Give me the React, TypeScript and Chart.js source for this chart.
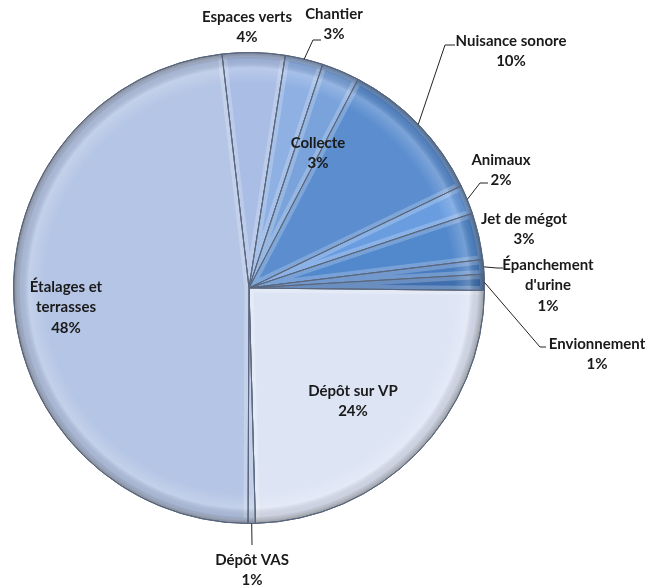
import React, { useEffect, useRef } from "react";
import { Chart, registerables } from "chart.js";

Chart.register(...registerables);

const categories = [
  "Espaces verts",
  "Chantier",
  "Collecte",
  "Nuisance sonore",
  "Animaux",
  "Jet de mégot",
  "Épanchement d'urine",
  "Envionnement",
  "Dépôt sur VP",
  "Dépôt VAS",
  "Étalages et terrasses",
];
const values = [4.3, 2.6, 2.6, 10.2, 2.0, 3.2, 1.0, 1.1, 24.4, 0.5, 48.1];
const percentLabels = ["4%", "3%", "3%", "10%", "2%", "3%", "1%", "1%", "24%", "1%", "48%"];
const labelLines = [
  ["Espaces verts"],
  ["Chantier"],
  ["Collecte"],
  ["Nuisance sonore"],
  ["Animaux"],
  ["Jet de mégot"],
  ["Épanchement", "d'urine"],
  ["Envionnement"],
  ["Dépôt sur VP"],
  ["Dépôt VAS"],
  ["Étalages et", "terrasses"],
];
const colors = [
  "#a9bde5",
  "#8fb0e3",
  "#7aa3dc",
  "#5b8dcf",
  "#6a9de0",
  "#5288cc",
  "#4a7dc0",
  "#3f6fae",
  "#dde4f4",
  "#b3c2e0",
  "#b5c5e5",
];

// label layout (text centre of first line; optional leader: elbow x,y and end x)
type Layout = { x: number; y: number; leader?: [number, number, number] };
const labelLayout: Layout[] = [
  { x: 247, y: 17 },
  { x: 334, y: 14, leader: [313, 40, 321] },
  { x: 318, y: 143 },
  { x: 511, y: 41, leader: [445, 45, 455] },
  { x: 501, y: 160, leader: [480, 183, 488] },
  { x: 524, y: 219 },
  { x: 548, y: 265, leader: [497, 268, 503] },
  { x: 597, y: 344, leader: [540, 347, 546] },
  { x: 353, y: 391 },
  { x: 252, y: 560, leader: [252, 545, 252] },
  { x: 66, y: 287 },
];

function arcPath(ctx: CanvasRenderingContext2D, arc: any) {
  ctx.beginPath();
  ctx.moveTo(arc.x, arc.y);
  ctx.arc(arc.x, arc.y, arc.outerRadius, arc.startAngle, arc.endAngle);
  ctx.closePath();
}

const bevelPlugin = {
  id: "bevel",
  afterDatasetDraw(chart: any) {
    const ctx = chart.ctx as CanvasRenderingContext2D;
    const meta = chart.getDatasetMeta(0);
    meta.data.forEach((arc: any) => {
      ctx.save();
      arcPath(ctx, arc);
      ctx.clip();
      // inner glow along slice edges
      arcPath(ctx, arc);
      ctx.strokeStyle = "rgba(255,255,255,0.22)";
      ctx.lineWidth = 9;
      ctx.stroke();
      // rim shading
      const r = arc.outerRadius;
      const g = ctx.createRadialGradient(arc.x, arc.y, 0, arc.x, arc.y, r);
      g.addColorStop(0, "rgba(255,255,255,0)");
      g.addColorStop(0.87, "rgba(255,255,255,0)");
      g.addColorStop(0.935, "rgba(255,255,255,0.2)");
      g.addColorStop(0.97, "rgba(0,0,0,0.08)");
      g.addColorStop(1, "rgba(0,0,0,0.35)");
      ctx.fillStyle = g;
      ctx.fillRect(arc.x - r, arc.y - r, 2 * r, 2 * r);
      ctx.restore();
      // slice border
      ctx.save();
      arcPath(ctx, arc);
      ctx.strokeStyle = "#56657e";
      ctx.lineWidth = 1;
      ctx.stroke();
      ctx.restore();
    });
  },
};

const labelPlugin = {
  id: "pieLabels",
  afterDatasetsDraw(chart: any) {
    const ctx = chart.ctx;
    const meta = chart.getDatasetMeta(0);
    ctx.save();
    ctx.font = "bold 15px Lato, 'Liberation Sans', sans-serif";
    ctx.fillStyle = "#1a1a1a";
    ctx.textAlign = "center";
    ctx.textBaseline = "middle";
    meta.data.forEach((arc: any, i: number) => {
      const lay = labelLayout[i];
      if (lay.leader) {
        const a = (arc.startAngle + arc.endAngle) / 2;
        const sx = arc.x + Math.cos(a) * arc.outerRadius;
        const sy = arc.y + Math.sin(a) * arc.outerRadius;
        ctx.beginPath();
        ctx.strokeStyle = "#222";
        ctx.lineWidth = 1;
        ctx.moveTo(sx, sy);
        ctx.lineTo(lay.leader[0], lay.leader[1]);
        ctx.lineTo(lay.leader[2], lay.leader[1]);
        ctx.stroke();
      }
      const lines = [...labelLines[i], percentLabels[i]];
      lines.forEach((t, k) => ctx.fillText(t, lay.x, lay.y + k * 20.5));
    });
    ctx.restore();
  },
};

export default function App() {
  const ref = useRef<HTMLCanvasElement>(null);
  useEffect(() => {
    if (!ref.current) return;
    const chart = new Chart(ref.current, {
      type: "pie",
      data: {
        labels: categories,
        datasets: [
          {
            data: values,
            backgroundColor: colors,
            borderColor: "#56657e",
            borderWidth: 1,
          },
        ],
      },
      options: {
        responsive: false,
        animation: false,
        devicePixelRatio: 1,
        rotation: -6.6,
        layout: { padding: { left: 13, right: 163, top: 52, bottom: 64 } },
        plugins: { legend: { display: false }, tooltip: { enabled: false } },
      },
      plugins: [bevelPlugin, labelPlugin],
    });
    return () => chart.destroy();
  }, []);
  return (
    <canvas
      ref={ref}
      width={648}
      height={588}
      style={{ position: "absolute", left: 0, top: 0, width: 648, height: 588, background: "#fff" }}
    />
  );
}
